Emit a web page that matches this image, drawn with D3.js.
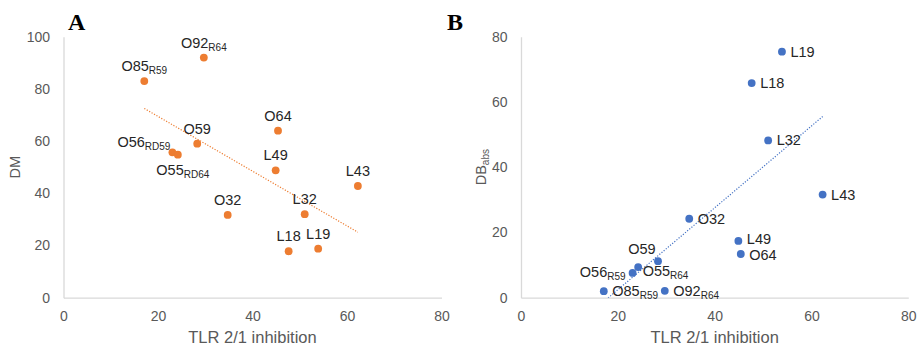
<!DOCTYPE html>
<html>
<head>
<meta charset="utf-8">
<script src="https://cdn.jsdelivr.net/npm/d3@7"></script>
<style>
  body { margin: 0; background: #fff; }
  svg { display: block; }
</style>
</head>
<body>
<div id="chart"></div>
<script>
// compounds, same order in both panels
const names = ["O85", "O92", "O56", "O55", "O59", "O64", "O32", "L49", "L43", "L32", "L18", "L19"]
const subsA = ["R59", "R64", "RD59", "RD64", "", "", "", "", "", "", "", ""]
const subsB = ["R59", "R64", "R59", "R64", "", "", "", "", "", "", "", ""]

// x values (TLR 2/1 inhibition)
const tlr = [17.1, 29.7, 23.05, 24.2, 28.3, 45.4, 34.75, 44.9, 62.3, 51.05, 47.65, 53.9]
// panel A y values
const dm = [83, 92, 55.7, 54.8, 59, 64, 31.7, 48.8, 42.8, 32, 17.8, 18.8]
// panel B y values
const dbAbs = [2.0, 2.1, 7.6, 9.4, 11.2, 13.4, 24.2, 17.4, 31.6, 48.2, 65.8, 75.4]

const xTicks = [0, 20, 40, 60, 80]
const yTicksA = [0, 20, 40, 60, 80, 100]
const yTicksB = [0, 20, 40, 60, 80]

// label placement: [anchor, dx, dy] relative to the point
const up = ["middle", 0, -10]
const rt = ["start", 8.5, 5]
const placeA = [up, up, ["end", -2, -5.5], ["middle", 5, 20], up, up, up, up, up, up, up, up]
const placeB = [rt, rt, ["end", -7, 4], ["start", 4.5, 9], ["middle", -16, -7],
  ["start", 8.5, 6.5], rt, ["start", 8.5, 3.5], rt, rt, rt, rt]

const W = 918, H = 346
const FONT = "'Liberation Sans', Arial, sans-serif"

const svg = d3.select("#chart").append("svg")
  .attr("width", W)
  .attr("height", H)

drawPanel({
  id: "A",
  letterX: 68,
  xRange: [63.5, 441.5],
  yMax: 100,
  yTicks: yTicksA,
  ys: dm,
  subs: subsA,
  place: placeA,
  color: "#ED7D31",
  yTitle: ["DM", ""],
  yTitleX: 20
})

drawPanel({
  id: "B",
  letterX: 447,
  xRange: [521, 908.3],
  yMax: 80,
  yTicks: yTicksB,
  ys: dbAbs,
  subs: subsB,
  place: placeB,
  color: "#4472C4",
  yTitle: ["DB", "abs"],
  yTitleX: 486
})

// least squares line, like Excel's linear trendline
function linearFit(xs, ys) {
  const mx = d3.mean(xs), my = d3.mean(ys)
  let sxy = 0, sxx = 0
  xs.forEach((x, i) => {
    sxy += (x - mx) * (ys[i] - my)
    sxx += (x - mx) * (x - mx)
  })
  const slope = sxy / sxx
  return x => my + slope * (x - mx)
}

function drawPanel(cfg) {
  const top = 36.7, bottom = 297.7
  const x = d3.scaleLinear().domain([0, 80]).range(cfg.xRange)
  const y = d3.scaleLinear().domain([0, cfg.yMax]).range([bottom, top])

  const g = svg.append("g")

  // panel letter
  g.append("text")
    .attr("x", cfg.letterX)
    .attr("y", 30)
    .attr("font-family", "'Liberation Serif', 'Times New Roman', serif")
    .attr("font-weight", "bold")
    .attr("font-size", 24)
    .attr("fill", "#000")
    .text(cfg.id)

  // axes, Excel style: no ticks, light grey lines
  const xAxis = g.append("g")
    .attr("transform", `translate(0,${bottom})`)
    .call(d3.axisBottom(x).tickValues(xTicks).tickSize(0).tickPadding(13.5))
  const yAxis = g.append("g")
    .attr("transform", `translate(${cfg.xRange[0]},0)`)
    .call(d3.axisLeft(y).tickValues(cfg.yTicks).tickSize(0).tickPadding(13.5))

  ;[xAxis, yAxis].forEach(a => {
    a.attr("font-family", FONT).attr("font-size", 14)
    a.select(".domain").attr("stroke", "#d9d9d9").attr("stroke-width", 1.3)
    a.selectAll("text").attr("fill", "#595959")
  })

  // axis titles
  const midX = (cfg.xRange[0] + cfg.xRange[1]) / 2
  g.append("text")
    .attr("x", midX)
    .attr("y", 343)
    .attr("text-anchor", "middle")
    .attr("font-family", FONT)
    .attr("font-size", 16.5)
    .attr("fill", "#595959")
    .text("TLR 2/1 inhibition")

  const yt = g.append("text")
    .attr("transform", `translate(${cfg.yTitleX},${(top + bottom) / 2}) rotate(-90)`)
    .attr("text-anchor", "middle")
    .attr("font-family", FONT)
    .attr("font-size", 14.5)
    .attr("fill", "#595959")
  yt.append("tspan").text(cfg.yTitle[0])
  if (cfg.yTitle[1]) {
    yt.append("tspan").attr("font-size", 10).attr("dy", 3).text(cfg.yTitle[1])
  }

  // trendline, clipped to the plot area
  const clipId = "clip" + cfg.id
  g.append("clipPath").attr("id", clipId)
    .append("rect")
    .attr("x", cfg.xRange[0])
    .attr("y", top)
    .attr("width", cfg.xRange[1] - cfg.xRange[0])
    .attr("height", bottom - top)

  const fit = linearFit(tlr, cfg.ys)
  const ext = d3.extent(tlr)
  g.append("path")
    .attr("clip-path", `url(#${clipId})`)
    .datum(ext)
    .attr("d", d3.line().x(d => x(d)).y(d => y(fit(d))))
    .attr("fill", "none")
    .attr("stroke", cfg.color)
    .attr("stroke-width", 1.2)
    .attr("stroke-dasharray", "1.2 1.6")

  // points
  const data = names.map((n, i) => ({ name: n, sub: cfg.subs[i], x: tlr[i], y: cfg.ys[i], place: cfg.place[i] }))

  g.selectAll("circle.pt")
    .data(data)
    .enter()
    .append("circle")
      .attr("class", "pt")
      .attr("cx", d => x(d.x))
      .attr("cy", d => y(d.y))
      .attr("r", 3.9)
      .attr("fill", cfg.color)

  // data labels with subscripts
  const lbl = g.selectAll("text.lbl")
    .data(data)
    .enter()
    .append("text")
      .attr("class", "lbl")
      .attr("x", d => x(d.x) + d.place[1])
      .attr("y", d => y(d.y) + d.place[2])
      .attr("text-anchor", d => d.place[0])
      .attr("font-family", FONT)
      .attr("font-size", 14.5)
      .attr("fill", "#262626")

  lbl.append("tspan").text(d => d.name)
  lbl.filter(d => d.sub)
    .append("tspan")
      .attr("font-size", 10)
      .attr("dy", 3)
      .text(d => d.sub)
}
</script>
</body>
</html>
